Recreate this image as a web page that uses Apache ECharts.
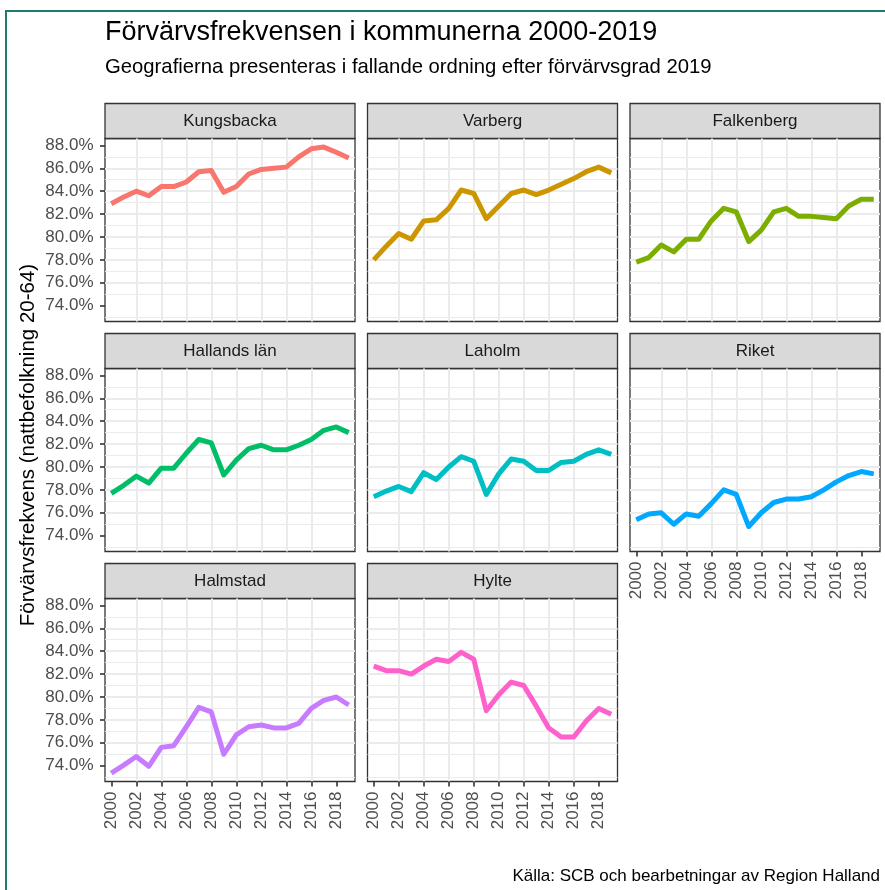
<!DOCTYPE html>
<html>
<head>
<meta charset="utf-8">
<title>Förvärvsfrekvensen i kommunerna 2000-2019</title>
<script src="https://cdn.jsdelivr.net/npm/echarts@6.0.0/dist/echarts.min.js"></script>
<style>
    html, body { margin: 0; padding: 0; background: #fff; }
    #chart { width: 885px; height: 890px; }
</style>
</head>
<body>
<div id="chart"></div>
<script>
var years = [2000, 2001, 2002, 2003, 2004, 2005, 2006, 2007, 2008, 2009,
             2010, 2011, 2012, 2013, 2014, 2015, 2016, 2017, 2018, 2019];

// förvärvsfrekvens i procent
var kungsbacka = [82.9, 83.5, 84.0, 83.6, 84.4, 84.4, 84.8, 85.7, 85.8, 83.9, 84.4, 85.5, 85.9, 86.0, 86.1, 87.0, 87.7, 87.85, 87.4, 86.9];
var varberg    = [78.0, 79.2, 80.3, 79.8, 81.4, 81.5, 82.5, 84.1, 83.8, 81.6, 82.7, 83.8, 84.1, 83.7, 84.1, 84.6, 85.1, 85.7, 86.1, 85.6];
var falkenberg = [77.8, 78.2, 79.3, 78.7, 79.8, 79.8, 81.4, 82.5, 82.2, 79.6, 80.6, 82.2, 82.5, 81.8, 81.8, 81.7, 81.6, 82.7, 83.3, 83.3];
var hallandsLan = [77.7, 78.4, 79.2, 78.6, 79.9, 79.9, 81.2, 82.4, 82.1, 79.3, 80.6, 81.6, 81.9, 81.5, 81.5, 81.9, 82.4, 83.2, 83.5, 83.0];
var laholm     = [77.4, 77.9, 78.3, 77.85, 79.5, 78.9, 80.0, 80.9, 80.5, 77.6, 79.4, 80.7, 80.5, 79.7, 79.7, 80.4, 80.5, 81.1, 81.5, 81.1];
var riket      = [75.4, 75.9, 76.0, 75.0, 75.9, 75.7, 76.8, 78.0, 77.6, 74.8, 76.0, 76.9, 77.2, 77.2, 77.4, 78.0, 78.7, 79.25, 79.6, 79.4];
var halmstad   = [73.35, 74.05, 74.8, 73.95, 75.6, 75.75, 77.4, 79.1, 78.7, 75.0, 76.7, 77.4, 77.55, 77.3, 77.3, 77.7, 79.0, 79.7, 80.0, 79.3];
var hylte      = [82.7, 82.3, 82.3, 82.0, 82.7, 83.3, 83.1, 83.9, 83.3, 78.8, 80.2, 81.3, 81.0, 79.2, 77.3, 76.5, 76.5, 77.9, 79.0, 78.5];

var regions = ['Kungsbacka', 'Varberg', 'Falkenberg', 'Hallands län', 'Laholm', 'Riket', 'Halmstad', 'Hylte'];
var regionValues = [kungsbacka, varberg, falkenberg, hallandsLan, laholm, riket, halmstad, hylte];
var colors = ['#F8766D', '#CD9600', '#7CAE00', '#00BE67', '#00BFC4', '#00A9FF', '#C77CFF', '#FF61CC'];

var yTicks = [74, 76, 78, 80, 82, 84, 86, 88];
var xTicks = [2000, 2002, 2004, 2006, 2008, 2010, 2012, 2014, 2016, 2018];

var FONT = '"Liberation Sans", Arial, sans-serif';

// facet-layout
var colLeft = [105, 367.5, 630];
var rowTop = [138.5, 368.5, 598.5];
var panelW = 250, panelH = 183, stripH = 35;

var grids = [], xAxes = [], yAxes = [], series = [], graphics = [];

regions.forEach(function (name, i) {
    var row = Math.floor(i / 3), col = i % 3;
    var showY = col === 0;
    var showX = i >= 5;

    grids.push({
        left: colLeft[col], top: rowTop[row], width: panelW, height: panelH,
        show: true, backgroundColor: '#fff', borderColor: '#333333', borderWidth: 1.3,
        containLabel: false, outerBoundsMode: 'none'
    });

    xAxes.push({
        gridIndex: i, type: 'value', min: 1999.5, max: 2019.5,
        minInterval: 2, maxInterval: 2,
        axisLine: {show: false},
        axisTick: {show: showX, length: 5, customValues: xTicks, lineStyle: {color: '#333333', width: 1.6}},
        axisLabel: {show: showX, customValues: xTicks, rotate: 90, margin: 10,
                    color: '#4d4d4d', fontSize: 17, fontFamily: FONT,
                    formatter: function (v) { return String(v); }},
        splitLine: {show: true, showMinLine: false, showMaxLine: false, lineStyle: {color: '#ebebeb', width: 2}}
    });

    yAxes.push({
        gridIndex: i, type: 'value', min: 72.62, max: 88.6,
        minInterval: 2, maxInterval: 2,
        axisLine: {show: false},
        axisTick: {show: showY, length: 5, customValues: yTicks, lineStyle: {color: '#333333', width: 1.6}},
        axisLabel: {show: showY, customValues: yTicks, margin: 11.5, color: '#4d4d4d', fontSize: 17, fontFamily: FONT,
                    formatter: function (v) { return v.toFixed(1) + '%'; }},
        splitLine: {show: true, showMinLine: false, showMaxLine: false, lineStyle: {color: '#ebebeb', width: 2}},
        minorTick: {show: false, splitNumber: 2},
        minorSplitLine: {show: true, lineStyle: {color: '#ebebeb', width: 1}}
    });

    series.push({
        name: name, type: 'line', xAxisIndex: i, yAxisIndex: i,
        data: years.map(function (y, k) { return [y, regionValues[i][k]]; }),
        showSymbol: false, symbol: 'none', silent: true,
        lineStyle: {color: colors[i], width: 5, join: 'round'},
        itemStyle: {color: colors[i]}
    });

    // strip med namn
    graphics.push({
        type: 'rect',
        shape: {x: colLeft[col], y: rowTop[row] - stripH, width: panelW, height: stripH},
        style: {fill: '#d9d9d9', stroke: '#333333', lineWidth: 1.3}
    });
    graphics.push({
        type: 'text', x: colLeft[col] + panelW / 2, y: rowTop[row] - stripH / 2,
        style: {text: name, fill: '#1a1a1a', font: '17px ' + FONT, align: 'center', verticalAlign: 'middle'}
    });
});

graphics.push({
    type: 'rect', z: -1,
    shape: {x: 6, y: 11, width: 900, height: 900},
    style: {fill: 'none', stroke: '#1f7a70', lineWidth: 2}
});
graphics.push({
    type: 'text', x: 105, y: 33,
    style: {text: 'Förvärvsfrekvensen i kommunerna 2000-2019', fill: '#000', font: '27px ' + FONT, verticalAlign: 'middle'}
});
graphics.push({
    type: 'text', x: 105, y: 67,
    style: {text: 'Geografierna presenteras i fallande ordning efter förvärvsgrad 2019', fill: '#000', font: '20.3px ' + FONT, verticalAlign: 'middle'}
});
graphics.push({
    type: 'text', x: 28, y: 445, rotation: Math.PI / 2,
    style: {text: 'Förvärvsfrekvens (nattbefolkning 20-64)', fill: '#000', font: '20.5px ' + FONT, align: 'center', verticalAlign: 'middle'}
});
graphics.push({
    type: 'text', x: 880, y: 876,
    style: {text: 'Källa: SCB och bearbetningar av Region Halland', fill: '#000', font: '17px ' + FONT, align: 'right', verticalAlign: 'middle'}
});

var chart = echarts.init(document.getElementById('chart'), null, {renderer: 'canvas'});
chart.setOption({
    animation: false,
    backgroundColor: '#fff',
    grid: grids,
    xAxis: xAxes,
    yAxis: yAxes,
    series: series,
    graphic: graphics
});
</script>
</body>
</html>
